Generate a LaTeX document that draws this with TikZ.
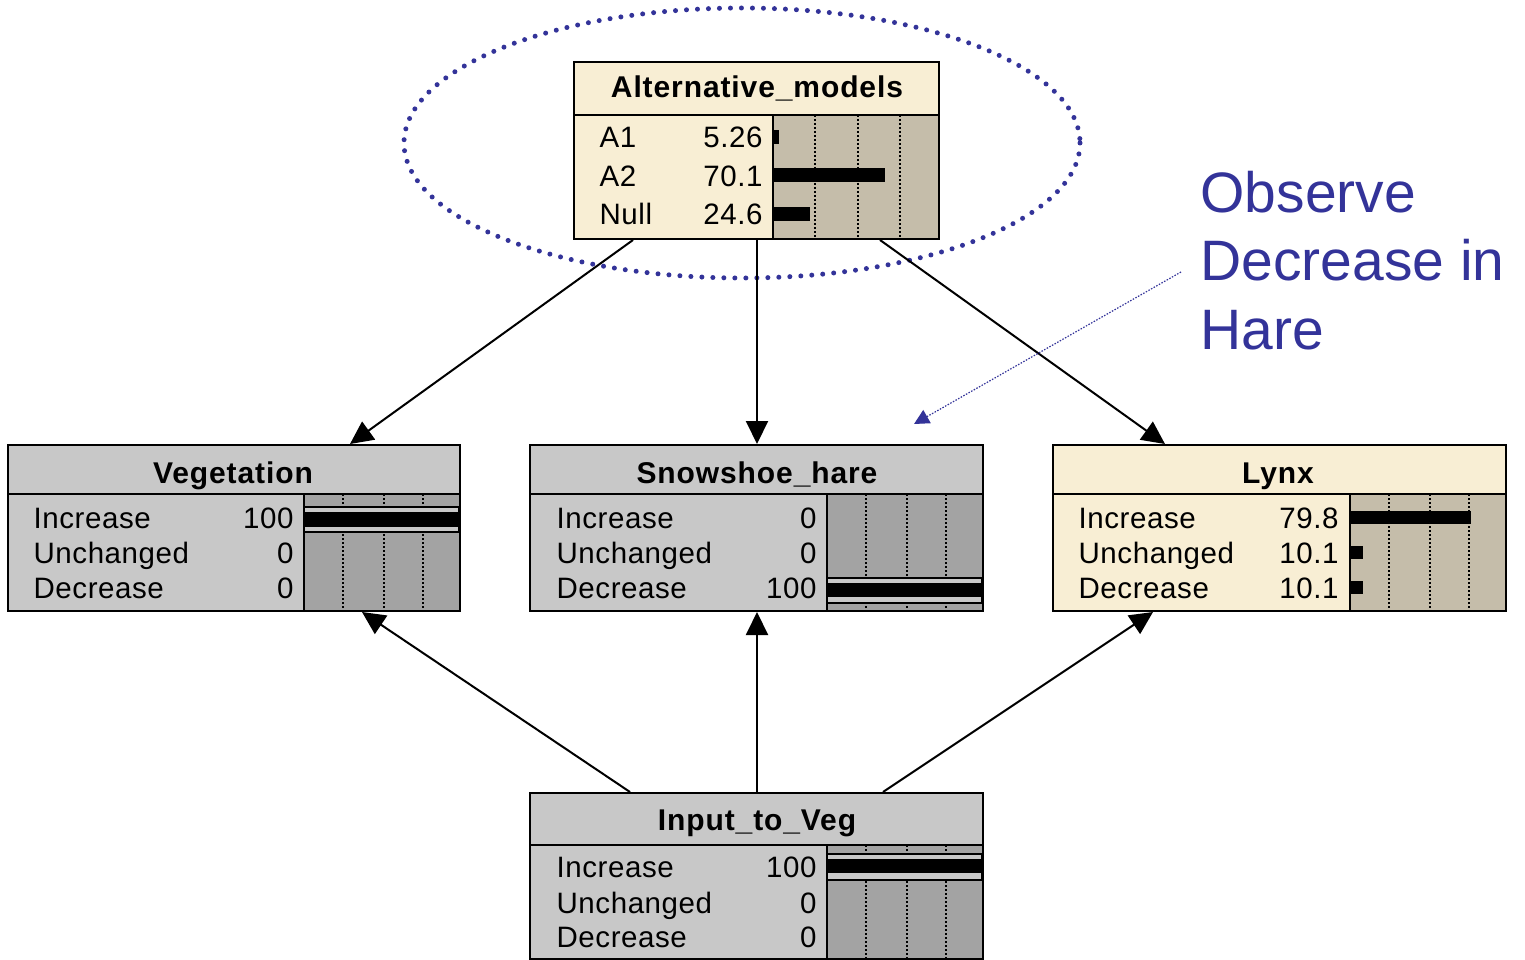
\documentclass[tikz,border=0pt]{standalone}
\usepackage{fontspec}
\setmainfont{Liberation Sans}
\newfontfamily\rowfont[LetterSpace=2]{Liberation Sans}
\newfontfamily\hdrfont[LetterSpace=3]{Liberation Sans}
\usetikzlibrary{arrows.meta}
\definecolor{cream}{RGB}{248,238,212}
\definecolor{tanbar}{RGB}{197,189,170}
\definecolor{lgrey}{RGB}{200,200,200}
\definecolor{dgrey}{RGB}{163,163,163}
\definecolor{navy}{RGB}{51,51,153}
\tikzset{
	netbox/.style={draw, line width=2pt, inner sep=0pt, anchor=north west},
	hdr/.style={anchor=base, font=\hdrfont\fontsize{30}{32}\selectfont\bfseries},
	lbl/.style={anchor=base west, font=\rowfont\fontsize{29.5}{31}\selectfont},
	val/.style={anchor=base east, font=\rowfont\fontsize{29.5}{31}\selectfont},
	tickline/.style={line width=1.5pt, dash pattern=on 2pt off 2pt},
	link/.style={line width=2pt, -{Triangle[length=23pt,width=22pt]}},
	note/.style={navy, line width=1.2pt, dash pattern=on 1.5pt off 1.5pt, -{Triangle[length=15pt,width=15pt]}},
	ovaldots/.style={navy, line width=5pt, line cap=round, dash pattern=on 0pt off 11pt},
	obs/.style={anchor=base west, text=navy, font=\fontsize{57}{57}\selectfont}
}
\begin{document}
\begin{tikzpicture}[x=1pt,y=-1pt]
	\useasboundingbox (0,0) rectangle (1525,960);
	\draw[ovaldots] (742,143) ellipse [x radius=338, y radius=135];

	% Alternative_models
	\begin{scope}[shift={(573,61)}]
		\fill[cream] (0,0) rectangle (365,177);
		\fill[tanbar] (200,54) rectangle (365,177);
		\foreach \gx in {42,85,127} \draw[tickline] (200+\gx,54) -- (200+\gx,177);
		\fill (200,69) rectangle (206,83);
		\fill (200,107) rectangle (312,121);
		\fill (200,146) rectangle (237,160);
		\draw[line width=2pt] (0,54) -- (365,54) (200,54) -- (200,177);
		\node[hdr] (alt-t) at (184,37) {Alternative\_models};
		\node[lbl] (alt-1l) at (23,87) {A1};
		\node[lbl] (alt-2l) at (23,125) {A2};
		\node[lbl] (alt-3l) at (23,164) {Null};
		\node[val] (alt-1v) at (193,87) {5.26};
		\node[val] (alt-2v) at (193,125) {70.1};
		\node[val] (alt-3v) at (193,164) {24.6};
	\end{scope}
	\node[netbox, minimum width=365pt, minimum height=177pt] (alt) at (573,61) {};

	% Vegetation
	\begin{scope}[shift={(7,444)}]
		\fill[lgrey] (0,0) rectangle (452,166);
		\fill[dgrey] (297,50) rectangle (452,166);
		\foreach \gx in {39,80,119} \draw[tickline] (297+\gx,50) -- (297+\gx,166);
		\filldraw[fill=lgrey, line width=1.2pt] (297,63) rectangle (452,88);
		\fill (297,68) rectangle (452,83);
		\draw[line width=2pt] (0,50) -- (452,50) (297,50) -- (297,166);
		\node[hdr] (veg-t) at (226,39) {Vegetation};
		\node[lbl] (veg-1l) at (23,84) {Increase};
		\node[lbl] (veg-2l) at (23,119) {Unchanged};
		\node[lbl] (veg-3l) at (23,154) {Decrease};
		\node[val] (veg-1v) at (290,84) {100};
		\node[val] (veg-2v) at (290,119) {0};
		\node[val] (veg-3v) at (290,154) {0};
	\end{scope}
	\node[netbox, minimum width=452pt, minimum height=166pt] (veg) at (7,444) {};

	% Snowshoe_hare
	\begin{scope}[shift={(529,444)}]
		\fill[lgrey] (0,0) rectangle (453,166);
		\fill[dgrey] (298,50) rectangle (453,166);
		\foreach \gx in {39,80,119} \draw[tickline] (298+\gx,50) -- (298+\gx,166);
		\filldraw[fill=lgrey, line width=1.2pt] (298,134) rectangle (453,159);
		\fill (298,139) rectangle (453,153);
		\draw[line width=2pt] (0,50) -- (453,50) (298,50) -- (298,166);
		\node[hdr] (hare-t) at (228,39) {Snowshoe\_hare};
		\node[lbl] (hare-1l) at (24,84) {Increase};
		\node[lbl] (hare-2l) at (24,119) {Unchanged};
		\node[lbl] (hare-3l) at (24,154) {Decrease};
		\node[val] (hare-1v) at (291,84) {0};
		\node[val] (hare-2v) at (291,119) {0};
		\node[val] (hare-3v) at (291,154) {100};
	\end{scope}
	\node[netbox, minimum width=453pt, minimum height=166pt] (hare) at (529,444) {};

	% Lynx
	\begin{scope}[shift={(1052,444)}]
		\fill[cream] (0,0) rectangle (453,166);
		\fill[tanbar] (298,50) rectangle (453,166);
		\foreach \gx in {39,80,119} \draw[tickline] (298+\gx,50) -- (298+\gx,166);
		\fill (298,67) rectangle (419.3,80);
		\fill (298,102) rectangle (311,115);
		\fill (298,137) rectangle (311,150);
		\draw[line width=2pt] (0,50) -- (453,50) (298,50) -- (298,166);
		\node[hdr] (lynx-t) at (226,39) {Lynx};
		\node[lbl] (lynx-1l) at (23,84) {Increase};
		\node[lbl] (lynx-2l) at (23,119) {Unchanged};
		\node[lbl] (lynx-3l) at (23,154) {Decrease};
		\node[val] (lynx-1v) at (290,84) {79.8};
		\node[val] (lynx-2v) at (290,119) {10.1};
		\node[val] (lynx-3v) at (290,154) {10.1};
	\end{scope}
	\node[netbox, minimum width=453pt, minimum height=166pt] (lynx) at (1052,444) {};

	% Input_to_Veg
	\begin{scope}[shift={(529,792)}]
		\fill[lgrey] (0,0) rectangle (453,166);
		\fill[dgrey] (298,53) rectangle (453,166);
		\foreach \gx in {39,80,119} \draw[tickline] (298+\gx,53) -- (298+\gx,166);
		\filldraw[fill=lgrey, line width=1.2pt] (298,62) rectangle (453,88);
		\fill (298,67) rectangle (453,81);
		\draw[line width=2pt] (0,53) -- (453,53) (298,53) -- (298,166);
		\node[hdr] (input-t) at (228,38) {Input\_to\_Veg};
		\node[lbl] (input-1l) at (24,85) {Increase};
		\node[lbl] (input-2l) at (24,121) {Unchanged};
		\node[lbl] (input-3l) at (24,155) {Decrease};
		\node[val] (input-1v) at (291,85) {100};
		\node[val] (input-2v) at (291,121) {0};
		\node[val] (input-3v) at (291,155) {0};
	\end{scope}
	\node[netbox, minimum width=453pt, minimum height=166pt] (input) at (529,792) {};

	\draw[link] ([xshift=60pt]alt.south west) -- ([xshift=343pt]veg.north west);
	\draw[link] ([xshift=184pt]alt.south west) -- ([xshift=228pt]hare.north west);
	\draw[link] ([xshift=307pt]alt.south west) -- ([xshift=113pt]lynx.north west);
	\draw[link] ([xshift=101pt]input.north west) -- ([xshift=355pt]veg.south west);
	\draw[link] ([xshift=228pt]input.north west) -- ([xshift=228pt]hare.south west);
	\draw[link] ([xshift=354pt]input.north west) -- ([xshift=101pt]lynx.south west);

	\node[obs] (obs1) at (1197,212) {Observe};
	\node[obs] (obs2) at (1197,280) {Decrease in};
	\node[obs] (obs3) at (1197,349) {Hare};
	\coordinate (hint-from) at (1181,272);
	\coordinate (hint) at (914,424);
	\draw[note] (hint-from) -- (hint);
\end{tikzpicture}
\end{document}
